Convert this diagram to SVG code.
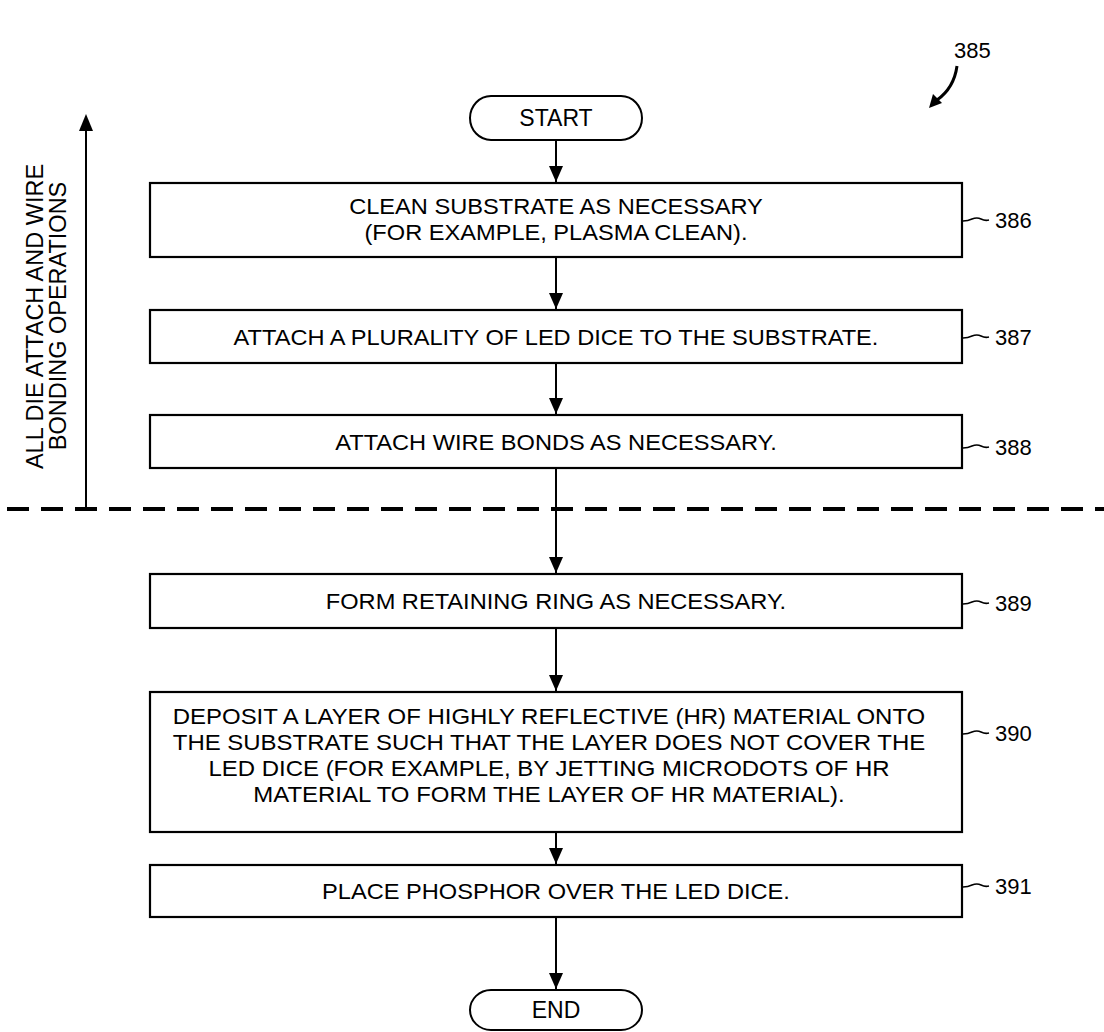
<svg xmlns="http://www.w3.org/2000/svg" width="1104" height="1032" viewBox="0 0 1104 1032">
<defs>
<marker id="ah" markerWidth="16" markerHeight="14" refX="16" refY="7" orient="auto" markerUnits="userSpaceOnUse" viewBox="0 0 16 14">
<path d="M0,0 L16,7 L0,14 Z" fill="#000"/>
</marker>
<style>
.box{fill:#fff;stroke:#000;stroke-width:2.2}
.term{fill:#fff;stroke:#000;stroke-width:2}
.t{font-family:"Liberation Sans",Arial,sans-serif;font-size:22.5px;fill:#000;text-anchor:middle}
.tt{font-family:"Liberation Sans",Arial,sans-serif;font-size:23px;fill:#000;text-anchor:middle}
.lbl{font-family:"Liberation Sans",Arial,sans-serif;font-size:22px;fill:#000}
.side{font-family:"Liberation Sans",Arial,sans-serif;font-size:23.5px;fill:#000;text-anchor:middle}
.c{fill:none;stroke:#000;stroke-width:2}
.sq{fill:none;stroke:#000;stroke-width:1.6}
</style>
</defs>

<g id="ref385">
<text class="lbl" x="954" y="58">385</text>
<path d="M957,66 Q954,88 937,100" fill="none" stroke="#000" stroke-width="3"/>
<path d="M929,108 L933,94 L942,103 Z" fill="#000"/>
</g>

<g id="side-note">
<line class="c" x1="86" y1="509" x2="86" y2="130"/>
<path d="M86,114 L79,131 L93,131 Z" fill="#000"/>
<text class="side" transform="translate(43 316.5) rotate(-90)">ALL DIE ATTACH AND WIRE</text>
<text class="side" transform="translate(66 316) rotate(-90)">BONDING OPERATIONS</text>
</g>

<g id="divider">
<line x1="7" y1="509" x2="1104" y2="509" stroke="#000" stroke-width="4" stroke-dasharray="22 12"/>
</g>

<g id="connectors">
<line class="c" x1="556" y1="140" x2="556" y2="182" marker-end="url(#ah)"/>
<line class="c" x1="556" y1="257" x2="556" y2="309" marker-end="url(#ah)"/>
<line class="c" x1="556" y1="363" x2="556" y2="414" marker-end="url(#ah)"/>
<line class="c" x1="556" y1="468" x2="556" y2="573" marker-end="url(#ah)"/>
<line class="c" x1="556" y1="628" x2="556" y2="691" marker-end="url(#ah)"/>
<line class="c" x1="556" y1="832" x2="556" y2="864" marker-end="url(#ah)"/>
<line class="c" x1="556" y1="917" x2="556" y2="989" marker-end="url(#ah)"/>
</g>

<g id="start">
<rect class="term" x="470" y="96" width="172" height="44" rx="21" ry="22"/>
<text class="tt" x="556" y="126">START</text>
</g>

<g id="step386">
<rect class="box" x="150" y="183" width="812" height="74"/>
<g transform="translate(556 0) scale(1.05 1)">
<text class="t" x="0" y="214">CLEAN SUBSTRATE AS NECESSARY</text>
<text class="t" x="0" y="240">(FOR EXAMPLE, PLASMA CLEAN).</text>
</g>
<path class="sq" d="M963,221 Q968,221 972,219 Q977,217 981,219 Q985,221 989,220"/>
<text class="lbl" x="995" y="228">386</text>
</g>

<g id="step387">
<rect class="box" x="150" y="310" width="812" height="53"/>
<text class="t" transform="translate(556 345) scale(1.05 1)" x="0" y="0">ATTACH A PLURALITY OF LED DICE TO THE SUBSTRATE.</text>
<path class="sq" d="M963,338 Q968,338 972,336 Q977,334 981,336 Q985,338 989,337"/>
<text class="lbl" x="995" y="345">387</text>
</g>

<g id="step388">
<rect class="box" x="150" y="415" width="812" height="53"/>
<text class="t" transform="translate(556 450) scale(1.05 1)" x="0" y="0">ATTACH WIRE BONDS AS NECESSARY.</text>
<path class="sq" d="M963,448 Q968,448 972,446 Q977,444 981,446 Q985,448 989,447"/>
<text class="lbl" x="995" y="455">388</text>
</g>

<g id="step389">
<rect class="box" x="150" y="574" width="812" height="54"/>
<text class="t" transform="translate(556 609) scale(1.05 1)" x="0" y="0">FORM RETAINING RING AS NECESSARY.</text>
<path class="sq" d="M963,604 Q968,604 972,602 Q977,600 981,602 Q985,604 989,603"/>
<text class="lbl" x="995" y="611">389</text>
</g>

<g id="step390">
<rect class="box" x="150" y="692" width="812" height="140"/>
<g transform="translate(549 0) scale(1.065 1)">
<text class="t" x="0" y="724">DEPOSIT A LAYER OF HIGHLY REFLECTIVE (HR) MATERIAL ONTO</text>
<text class="t" x="0" y="750">THE SUBSTRATE SUCH THAT THE LAYER DOES NOT COVER THE</text>
<text class="t" x="0" y="776">LED DICE (FOR EXAMPLE, BY JETTING MICRODOTS OF HR</text>
<text class="t" x="0" y="802">MATERIAL TO FORM THE LAYER OF HR MATERIAL).</text>
</g>
<path class="sq" d="M963,734 Q968,734 972,732 Q977,730 981,732 Q985,734 989,733"/>
<text class="lbl" x="995" y="741">390</text>
</g>

<g id="step391">
<rect class="box" x="150" y="865" width="812" height="52"/>
<text class="t" transform="translate(556 899) scale(1.05 1)" x="0" y="0">PLACE PHOSPHOR OVER THE LED DICE.</text>
<path class="sq" d="M963,887 Q968,887 972,885 Q977,883 981,885 Q985,887 989,886"/>
<text class="lbl" x="995" y="894">391</text>
</g>

<g id="end">
<rect class="term" x="470" y="990" width="172" height="40" rx="21" ry="20"/>
<text class="tt" x="556" y="1018">END</text>
</g>
</svg>
